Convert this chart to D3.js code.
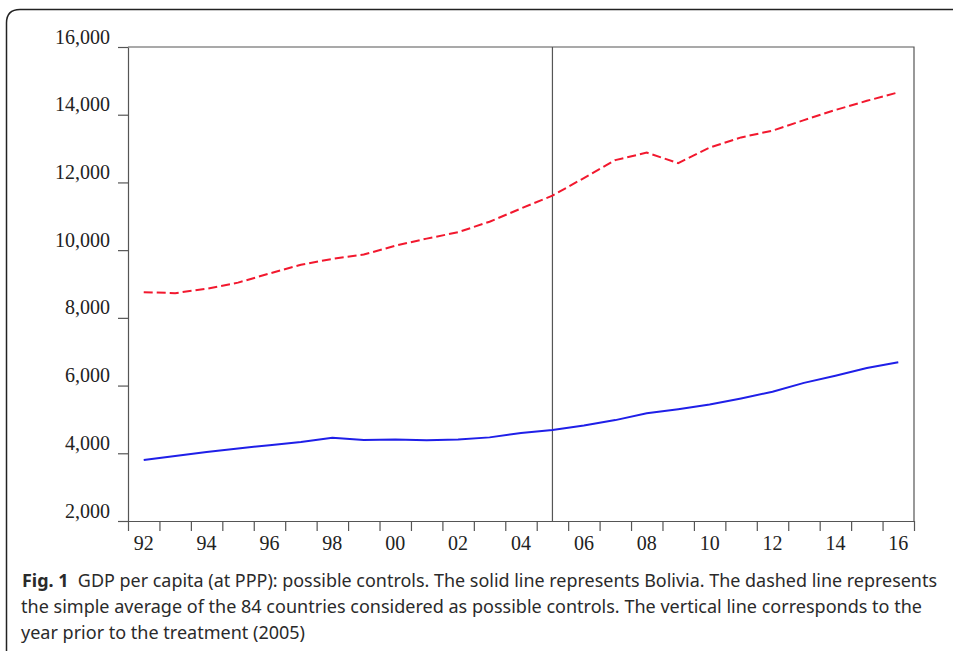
<!DOCTYPE html>
<meta charset="utf-8">
<head>
  <title>GDP per capita: possible controls</title>
  <style>
    body { margin: 0; background: #fff; }
    svg { display: block; background: #fff; }
    .axis text { font-family: "Liberation Serif", "DejaVu Serif", serif; font-size: 20px; fill: #222; }
    .axis path, .axis line { stroke: #555; stroke-width: 1.2; }
    .caption { font-family: "Noto Sans", "Open Sans", sans-serif; font-size: 18px; fill: #2a2a2a; }
  </style>
</head>
<body>
<script src="https://cdn.jsdelivr.net/npm/d3@7"></script>
<script>

// years 1992..2016
var years = d3.range(1992, 2017);
var yearLabels = ["92","94","96","98","00","02","04","06","08","10","12","14","16"];
var yTicks = [2000, 4000, 6000, 8000, 10000, 12000, 14000, 16000];

// solid line: Bolivia
var bolivia = [3800, 3920, 4040, 4140, 4240, 4330, 4460, 4390, 4410, 4385, 4410, 4470, 4600, 4690,
               4820, 4980, 5180, 5300, 5440, 5620, 5820, 6080, 6290, 6520, 6690];
// dashed line: simple average of 84 possible controls
var controls = [8760, 8730, 8860, 9040, 9310, 9570, 9740, 9870, 10130, 10340, 10530, 10840, 11230, 11610,
                12130, 12660, 12880, 12570, 13030, 13330, 13530, 13840, 14140, 14410, 14660];

var treatYear = 2005;

var W = 953, H = 651;
var margin = {top: 47, right: 39, bottom: 130, left: 128};

var svg = d3.select("body").append("svg")
    .attr("width", W)
    .attr("height", H);

// outer frame with rounded corner
svg.append("path")
    .attr("d", "M6.5," + H + " L6.5,23 Q6.5,9.5 20,9.5 L" + W + ",9.5")
    .attr("fill", "none")
    .attr("stroke", "#222")
    .attr("stroke-width", 1.5);

// x: each year is a slot, ticks on slot edges, points at slot centres
var x = d3.scaleLinear()
    .domain([1992, 2017])
    .range([margin.left, W - margin.right]);
var y = d3.scaleLinear()
    .domain([2000, 16000])
    .range([H - margin.bottom, margin.top]);

var x0 = x.range()[0], x1 = x.range()[1];
var y0 = y.range()[0], y1 = y.range()[1];

// box top and right
svg.append("path")
    .attr("d", "M" + x0 + "," + y1 + " L" + x1 + "," + y1 + " L" + x1 + "," + y0)
    .attr("fill", "none")
    .attr("stroke", "#555")
    .attr("stroke-width", 1.2);

// y axis
var yAxis = svg.append("g")
    .attr("class", "axis")
    .attr("transform", "translate(" + x0 + ",0)")
    .call(d3.axisLeft(y).tickValues(yTicks).tickSize(10).tickSizeOuter(0).tickPadding(8)
      .tickFormat(d3.format(",")));
yAxis.selectAll("text").attr("dy", "-0.2em");

// x axis
var xAxis = svg.append("g")
    .attr("class", "axis")
    .attr("transform", "translate(0," + y0 + ")")
    .call(d3.axisBottom(x).tickValues(d3.range(1992, 2018)).tickSize(10).tickSizeOuter(0)
      .tickFormat(""));

xAxis.selectAll(".lbl")
    .data(yearLabels)
    .enter().append("text")
    .attr("class", "lbl")
    .attr("x", function(d, i) { return x(1992 + 2 * i + 0.5); })
    .attr("y", 29)
    .attr("text-anchor", "middle")
    .text(function(d) { return d; });

// vertical line at year prior to treatment
svg.append("line")
    .attr("x1", x(treatYear + 0.5)).attr("x2", x(treatYear + 0.5))
    .attr("y1", y1).attr("y2", y0)
    .attr("stroke", "#555")
    .attr("stroke-width", 1.2);

var line = d3.line()
    .x(function(d, i) { return x(years[i] + 0.5); })
    .y(function(d) { return y(d); });

svg.append("path")
    .datum(controls)
    .attr("d", line)
    .attr("fill", "none")
    .attr("stroke", "#f2182e")
    .attr("stroke-width", 2)
    .attr("stroke-dasharray", "9,4");

svg.append("path")
    .datum(bolivia)
    .attr("d", line)
    .attr("fill", "none")
    .attr("stroke", "#1f1fe8")
    .attr("stroke-width", 2);

// caption
var cap = svg.append("g").attr("class", "caption");
var t1 = cap.append("text")
    .attr("x", 22).attr("y", 587)
    .attr("textLength", 915).attr("lengthAdjust", "spacingAndGlyphs");
t1.append("tspan").attr("font-weight", "bold").text("Fig. 1");
t1.append("tspan").attr("xml:space", "preserve")
    .text("\u00a0 GDP per capita (at PPP): possible controls. The solid line represents Bolivia. The dashed line represents");
cap.append("text")
    .attr("x", 21).attr("y", 613)
    .attr("textLength", 901).attr("lengthAdjust", "spacingAndGlyphs")
    .text("the simple average of the 84 countries considered as possible controls. The vertical line corresponds to the");
cap.append("text")
    .attr("x", 21).attr("y", 639)
    .attr("textLength", 284).attr("lengthAdjust", "spacingAndGlyphs")
    .text("year prior to the treatment (2005)");

</script>
</body>
